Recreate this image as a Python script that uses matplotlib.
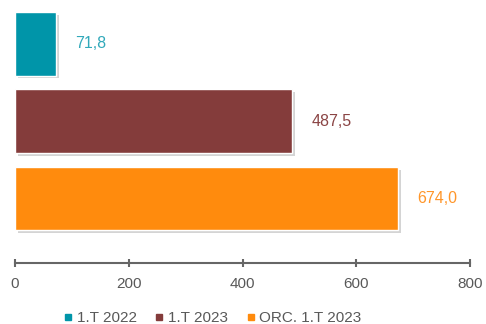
import matplotlib.pyplot as plt
import matplotlib.patheffects as pe

plt.rcParams['font.family'] = ['Liberation Sans', 'DejaVu Sans']

# data
categories = ['1.T 2022', '1.T 2023', 'ORC. 1.T 2023']
values = [71.8, 487.5, 674.0]
labels = ['71,8', '487,5', '674,0']
colors = ['#0095A9', '#843C3B', '#FF8B0D']
label_colors = ['#31A9BA', '#8B4545', '#FF962A']

fig = plt.figure(figsize=(4.86, 3.24), dpi=100)
ax = fig.add_axes([15 / 486, 1 - 263 / 324, 455 / 486, 258 / 324])

ypos = list(range(len(categories)))
shadow = [pe.SimplePatchShadow(offset=(2, -2), shadow_rgbFace='#aaaaaa', alpha=0.5), pe.Normal()]
bars = ax.barh(ypos, values, height=0.82, color=colors, edgecolor='white', linewidth=1.0)
for b in bars:
    b.set_path_effects(shadow)

for y, v, t, c in zip(ypos, values, labels, label_colors):
    ax.annotate(t, (v, y), xytext=(19, 0), textcoords='offset pixels',
                va='center', ha='left', fontsize=11.5, color=c)

ax.set_xlim(0, 800)
ax.set_ylim(2.83, -0.5)
ax.set_xticks([0, 200, 400, 600, 800])
ax.tick_params(axis='x', direction='inout', length=6, width=1.5, color='#666666',
               labelcolor='#595959', labelsize=11, pad=7)
ax.set_yticks([])
for s in ['top', 'right', 'left']:
    ax.spines[s].set_visible(False)
ax.spines['bottom'].set_color('#666666')
ax.spines['bottom'].set_linewidth(1.5)

handles = [plt.Line2D([], [], marker='s', linestyle='none', markersize=5, color=c) for c in colors]
fig.legend(handles, categories, loc='center', bbox_to_anchor=(211 / 486, 1 - 318 / 324),
           ncol=3, frameon=False, fontsize=11, handletextpad=0.05, columnspacing=1.0,
           handlelength=1.0, labelcolor='#595959')

fig.savefig('out.png', dpi=100)
